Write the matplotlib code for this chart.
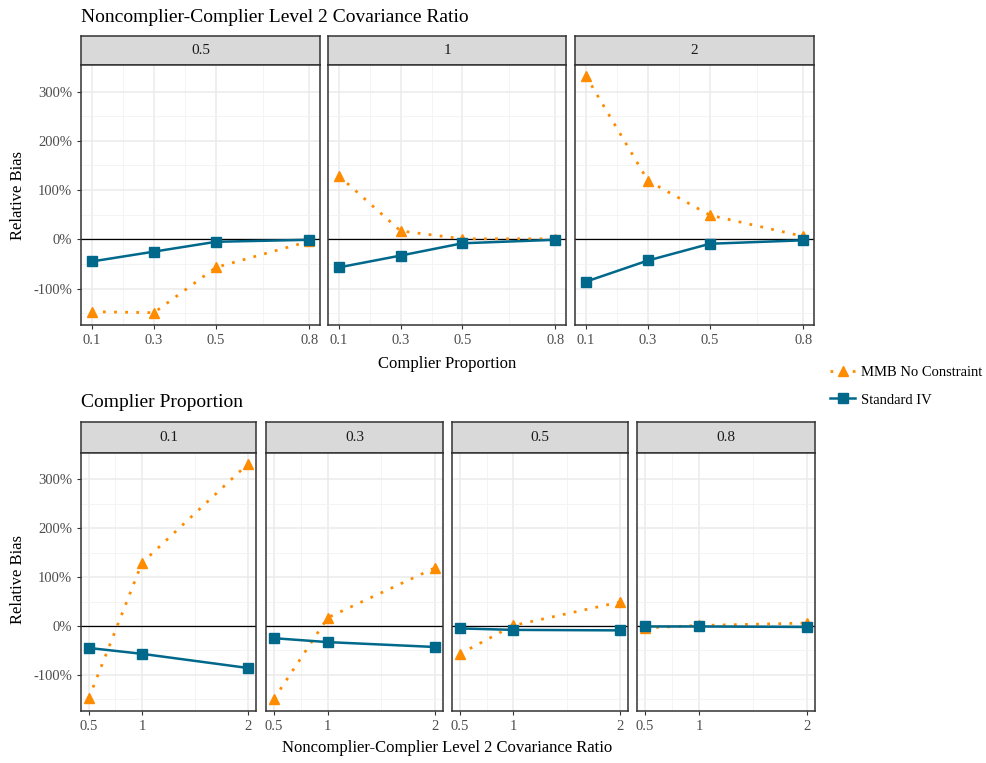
import matplotlib.pyplot as plt
from matplotlib.lines import Line2D
import numpy as np

plt.rcParams['font.family'] = ['Liberation Serif', 'DejaVu Serif']

# relative bias (%) by covariance ratio, across complier proportions
props = [0.1, 0.3, 0.5, 0.8]
ratios = [0.5, 1, 2]
ratio_labels = ['0.5', '1', '2']
prop_labels = ['0.1', '0.3', '0.5', '0.8']

mmb_r05 = [-147, -149, -57, -4]
mmb_r1 = [129, 17, 1, 1]
mmb_r2 = [332, 119, 49, 6]
iv_r05 = [-45, -25, -5, -1]
iv_r1 = [-57, -33, -8, -1]
iv_r2 = [-86, -43, -9, -2]

mmb = np.array([mmb_r05, mmb_r1, mmb_r2])   # rows: ratio, cols: proportion
iv = np.array([iv_r05, iv_r1, iv_r2])

ORANGE = '#FF8C00'
BLUE = '#00688B'
W, H = 986, 763

fig = plt.figure(figsize=(W / 100, H / 100), dpi=100)


def box(l, t, r, b):
    return [l / W, 1 - b / H, (r - l) / W, (b - t) / H]


ymin, ymax = -174, 354


def panel(l, t, r, b, strip_b, label, x, y_mmb, y_iv, xbreaks, xlabels, xminor, xlim, show_y):
    # strip
    sax = fig.add_axes(box(l, t, r, strip_b))
    sax.set_facecolor('#D9D9D9')
    sax.set_xticks([])
    sax.set_yticks([])
    for s in sax.spines.values():
        s.set_color('#333333')
        s.set_linewidth(1.1)
    sax.text(0.5, 0.5, label, ha='center', va='center', fontsize=11, color='#1A1A1A',
             transform=sax.transAxes)

    ax = fig.add_axes(box(l, strip_b, r, b))
    ax.set_xlim(*xlim)
    ax.set_ylim(ymin, ymax)
    ax.set_xticks(xbreaks)
    ax.set_xticklabels(xlabels)
    ax.set_xticks(xminor, minor=True)
    ax.set_yticks([-100, 0, 100, 200, 300])
    ax.set_yticks([-150, -50, 50, 150, 250], minor=True)
    if show_y:
        ax.set_yticklabels(['-100%', '0%', '100%', '200%', '300%'])
    else:
        ax.set_yticklabels([])
    ax.grid(which='major', color='#EBEBEB', linewidth=1.1, zorder=0)
    ax.grid(which='minor', color='#F2F2F2', linewidth=0.6, zorder=0)
    ax.set_axisbelow(True)
    ax.tick_params(which='major', length=3, width=0.8, color='#333333', labelcolor='#4D4D4D',
                   labelsize=10.5, pad=3.5)
    ax.tick_params(which='minor', length=0)
    if not show_y:
        ax.tick_params(axis='y', which='major', length=0)
    for s in ax.spines.values():
        s.set_color('#333333')
        s.set_linewidth(1.1)

    ax.axhline(0, color='black', linewidth=0.9, zorder=2)
    ax.plot(x, y_mmb, color=ORANGE, linestyle=(0, (1, 3)), linewidth=2.0,
            marker='^', markersize=7.5, zorder=3)
    ax.plot(x, y_iv, color=BLUE, linestyle='-', linewidth=1.8,
            marker='s', markersize=6.5, zorder=3)
    return ax


# top row: one panel per covariance ratio
top_cols = [(81, 320), (328, 566), (575, 814)]
for i, (l, r) in enumerate(top_cols):
    panel(l, 36, r, 325, 65, ratio_labels[i], props, mmb[i], iv[i],
          props, prop_labels, [0.2, 0.4, 0.65], (0.065, 0.835), i == 0)

# bottom row: one panel per complier proportion
bot_cols = [(81, 256), (266, 443), (452, 628), (637, 815)]
for j, (l, r) in enumerate(bot_cols):
    panel(l, 422, r, 711, 453, prop_labels[j], ratios, mmb[:, j], iv[:, j],
          ratios, ratio_labels, [0.75, 1.5], (0.425, 2.075), j == 0)

# titles and shared axis labels
fig.text(81 / W, 1 - 22 / H, 'Noncomplier-Complier Level 2 Covariance Ratio',
         fontsize=14, ha='left', va='baseline')
fig.text(81 / W, 1 - 407 / H, 'Complier Proportion', fontsize=14, ha='left', va='baseline')
fig.text(447 / W, 1 - 364 / H, 'Complier Proportion', fontsize=12, ha='center', va='center')
fig.text(447 / W, 1 - 748 / H, 'Noncomplier-Complier Level 2 Covariance Ratio',
         fontsize=12, ha='center', va='center')
fig.text(18 / W, 1 - 195 / H, 'Relative Bias', fontsize=12, rotation=90, ha='center', va='center')
fig.text(18 / W, 1 - 580 / H, 'Relative Bias', fontsize=12, rotation=90, ha='center', va='center')

handles = [
    Line2D([], [], color=ORANGE, linestyle=(0, (1, 3)), linewidth=2.0, marker='^', markersize=7.5),
    Line2D([], [], color=BLUE, linestyle='-', linewidth=1.8, marker='s', markersize=6.5),
]
fig.legend(handles, ['MMB No Constraint', 'Standard IV'], loc='center left',
           bbox_to_anchor=(820 / W, 1 - 386 / H), frameon=False, fontsize=10.5,
           handlelength=1.7, handletextpad=0.4, labelspacing=1.0, borderpad=0.2)

fig.savefig('out.png', dpi=100)
